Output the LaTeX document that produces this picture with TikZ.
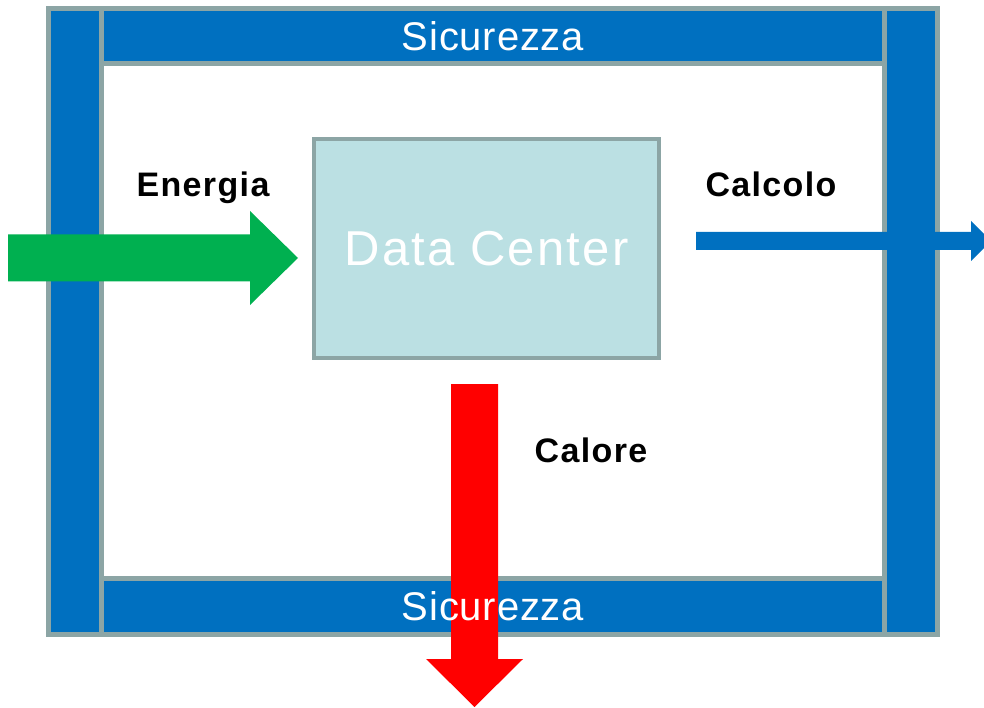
\documentclass[tikz,border=0pt]{standalone}
\usepackage{fontspec}
\setmainfont{Liberation Sans}
\definecolor{barblue}{RGB}{0,112,192}
\definecolor{bordergray}{RGB}{140,165,165}
\definecolor{dcfill}{RGB}{187,224,227}
\definecolor{energygreen}{RGB}{0,176,80}

\begin{document}
\begin{tikzpicture}[x=1pt,y=-1pt,
    bar/.style={draw=bordergray,fill=barblue,line width=5pt,inner sep=0pt},
    sic/.style={text=white,font=\addfontfeature{LetterSpace=2}\fontsize{40}{40}\selectfont},
    lbl/.style={font=\bfseries\addfontfeature{LetterSpace=4}\fontsize{34}{34}\selectfont,anchor=base}]
                \useasboundingbox (0,0) rectangle (984,708);
                \node[bar,minimum width=53,minimum height=626] (sxbar) at (75,321.5) {};
                \node[bar,minimum width=53,minimum height=626] (dxbar) at (911,321.5) {};
                \node[bar,minimum width=783,minimum height=55] (topbar) at (493,36) {};
                \node[bar,minimum width=783,minimum height=56] (botbar) at (493,606.5) {};
                \node[draw=bordergray,fill=dcfill,line width=4pt,minimum width=345,minimum height=218,
                      text=white,font=\addfontfeature{LetterSpace=4.5}\fontsize{49}{49}\selectfont] (dc) at (486.5,248.5) {Data Center};
                \node[lbl] (energia) at (203,197) {Energia};
                \node[lbl] (calcolo) at (771,197) {Calcolo};
                \node[lbl] (calore) at (591,462) {Calore};
                % frecce
                \coordinate (ein) at (8,258);
                \coordinate (eout) at (298,258);
                \fill[energygreen] (ein) ++(0,-23.5) -- ++(242,0) -- ++(0,-23.5) -- (eout) -- ++(-48,47) -- ++(0,-23.5) -- ++(-242,0) -- cycle;
                \coordinate (cin) at (696,241);
                \coordinate (cout) at (991,241);
                \fill[barblue] (cin) ++(0,-9) -- ++(275,0) -- ++(0,-11) -- (cout) -- ++(-20,20) -- ++(0,-11) -- ++(-275,0) -- cycle;
                \coordinate (qin) at (474.5,384);
                \coordinate (qout) at (474.5,707);
                \fill[red] (qin) ++(-23.5,0) -- ++(0,275) -- ++(-25,0) -- (qout) -- ++(48.5,-48) -- ++(-25,0) -- ++(0,-275) -- cycle;
                \node[sic] (sictop) at (topbar) {Sicurezza};
                \node[sic] (sicbot) at (botbar) {Sicurezza};
            \end{tikzpicture}
\end{document}
